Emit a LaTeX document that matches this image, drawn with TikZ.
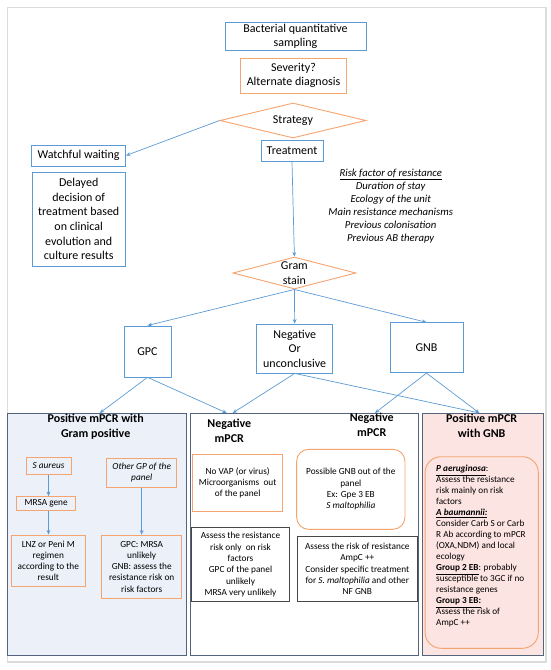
\documentclass[tikz,border=0pt]{standalone}
\usepackage{fontspec}
\setmainfont{Carlito}
\usetikzlibrary{shapes.geometric,arrows.meta}
\definecolor{bl}{RGB}{91,155,213}
\definecolor{orc}{RGB}{244,164,110}
\definecolor{slate}{RGB}{84,100,125}
\definecolor{dk}{RGB}{70,70,70}
\definecolor{lbfill}{RGB}{235,240,249}
\definecolor{pkfill}{RGB}{252,228,226}
\definecolor{framec}{RGB}{220,220,220}
\newcommand\fz[2]{\fontsize{#1}{#2}\selectfont}
\begin{document}
\begin{tikzpicture}[x=1pt,y=-1pt,
  bbox/.style={draw=bl, line width=0.8pt, inner sep=1pt, align=center, font=\fz{12}{14.6}},
  obox/.style={draw=orc, line width=0.9pt, inner sep=1pt, align=center, font=\fz{12}{14.6}},
  odia/.style={draw=orc, line width=0.9pt, diamond, inner sep=0pt},
  sbox/.style={draw=orc, line width=0.9pt, inner sep=1pt, align=center, font=\fz{9.3}{11.2}},
  dbox/.style={draw=dk, line width=0.8pt, inner sep=1pt, align=center, font=\fz{9.3}{11.3}},
  panel/.style={draw=slate, line width=0.9pt, anchor=north west, inner sep=0pt},
  head/.style={align=center, font=\fz{12}{15}\bfseries},
  arr/.style={draw=bl, line width=0.7pt, -{Stealth[length=4.5pt,width=3.8pt]}}]
\useasboundingbox (0,0) rectangle (550,670);
\draw[framec, line width=1.2pt] (7.5,7.5) rectangle (546,662);

% panels
\node[panel, fill=lbfill, minimum width=178.4, minimum height=242] (pL) at (7.3,413) {};
\node[panel, fill=white, minimum width=228.2, minimum height=242] (pM) at (189.5,413) {};
\node[panel, fill=pkfill, minimum width=121, minimum height=242] (pR) at (421.7,413) {};

% top flow
\node[bbox, minimum width=141, minimum height=28] (bact) at (295.5,36.4) {Bacterial quantitative\\sampling};
\node[obox, minimum width=106, minimum height=35] (sev) at (293.5,75.5) {Severity?\\Alternate diagnosis};
\node[odia, minimum width=146, minimum height=35] (strat) at (293,120.5) {};
\node[font=\fz{12}{14.6}] (stratt) at (strat.center) {Strategy};
\node[bbox, minimum width=62, minimum height=21] (treat) at (292,151) {Treatment};
\node[bbox, minimum width=94, minimum height=21] (watch) at (78.6,155.5) {Watchful waiting};
\node[bbox, minimum width=93, minimum height=94] (delay) at (78.7,219) {Delayed\\decision of\\treatment based\\on clinical\\evolution and\\culture results};
\node[font=\fz{10.7}{13}\itshape, align=center] (risk) at (390.7,206) {\underline{Risk factor of resistance}\\Duration of stay\\Ecology of the unit\\Main resistance mechanisms\\Previous colonisation\\Previous AB therapy};
\node[odia, minimum width=123, minimum height=32] (gram) at (294.4,273) {};
\node[font=\fz{12}{14.3}, align=center] (gramt) at (gram.center) {Gram\\stain};
\node[bbox, minimum width=47, minimum height=51] (gpc) at (147.5,351.4) {GPC};
\node[bbox, minimum width=76, minimum height=49] (neg) at (294.7,348.5) {Negative\\Or\\unconclusive};
\node[bbox, minimum width=73, minimum height=50] (gnb) at (426.5,347.7) {GNB};

% left panel
\node[head] (hL) at (95.7,426.5) {Positive mPCR with\\Gram positive};
\node[sbox, font=\fz{9.3}{11.2}\itshape, minimum width=45, minimum height=16.6] (saur) at (48.5,466) {S aureus};
\node[sbox, font=\fz{9.3}{11.2}\itshape, minimum width=70, minimum height=29.3] (other) at (141.7,472.7) {Other GP of the\\panel};
\node[sbox, minimum width=59, minimum height=13.5] (mrsa) at (46.2,503.3) {MRSA gene};
\node[sbox, minimum width=74.7, minimum height=51.7] (lnz) at (48.3,560.8) {LNZ or Peni M\\regimen\\according to the\\result};
\node[sbox, minimum width=80, minimum height=63.3] (gpcm) at (141.7,566.7) {GPC: MRSA\\unlikely\\GNB: assess the\\resistance risk on\\risk factors};

% middle panel
\node[head] (hM1) at (229.3,430.5) {Negative\\mPCR};
\node[head] (hM2) at (371.7,425.2) {Negative\\mPCR};
\node[sbox, minimum width=90, minimum height=56.7] (novap) at (237.7,482.7) {No VAP (or virus)\\Microorganisms\ \ out\\of the panel};
\node[dbox, minimum width=97.6, minimum height=74] (as1) at (240.5,564.7) {Assess the resistance\\risk only\ \ on risk\\factors\\GPC of the panel\\unlikely\\MRSA very unlikely};
\node[sbox, rounded corners=12pt, minimum width=108.3, minimum height=80] (possg) at (350.8,489.3) {Possible GNB out of the\\panel\\Ex: Gpe 3 EB\\\textit{S maltophilia}};
\node[dbox, minimum width=120.7, minimum height=64.3] (as2) at (357.3,568.8) {Assess the risk of resistance\\AmpC ++\\Consider specific treatment\\for \textit{S. maltophilia} and other\\NF GNB};

% right panel
\node[head] (hR) at (481.7,426.3) {Positive mPCR\\with GNB};
\node[draw=orc, line width=0.9pt, rounded corners=16pt, minimum width=113.3, minimum height=191.6, inner sep=0pt] (rbox) at (481.7,552.5) {};
\node[anchor=west, align=left, inner sep=0pt, font=\fz{9.2}{11}] (rtext) at (436,546.5) {\textbf{\textit{\underline{P aeruginosa}}}:\\Assess the resistance\\risk mainly on risk\\factors\\\textbf{\textit{\underline{A baumannii:}}}\\Consider Carb S or Carb\\R Ab according to mPCR\\(OXA,NDM) and local\\ecology\\\textbf{\underline{Group 2 EB}}: probably\\susceptible to 3GC if no\\resistance genes\\\textbf{\underline{Group 3 EB:}}\\Assess the risk of\\AmpC ++};

% arrow targets on panel tops
\coordinate (aL) at (99.8,413);
\coordinate (aM1) at (226.7,413);
\coordinate (aM2) at (232.7,413);
\coordinate (aM3) at (375,413);
\coordinate (aR) at (479.3,413);

% connectors
\draw[arr] (strat.west) -- (watch.east);
\draw[arr] (treat.south) -- (gram.north);
\draw[arr] (gram.south) -- (gpc.north);
\draw[arr] (gram.south) -- (neg.north);
\draw[arr] (gram.south) -- (gnb.north);
\draw[arr] (gpc.south) -- (aL);
\draw[arr] (gpc.south) -- (aM1);
\draw[arr] (neg.south) -- (aM2);
\draw[arr] (neg.south) -- (aR);
\draw[arr] (gnb.south) -- (aM3);
\draw[arr] (gnb.south) -- (aR);
\draw[arr] (saur.south) -- (saur.south |- mrsa.north);
\draw[arr] (saur.south |- mrsa.south) -- (saur.south |- lnz.north);
\draw[arr] (other.south) -- (other.south |- gpcm.north);
\end{tikzpicture}
\end{document}
